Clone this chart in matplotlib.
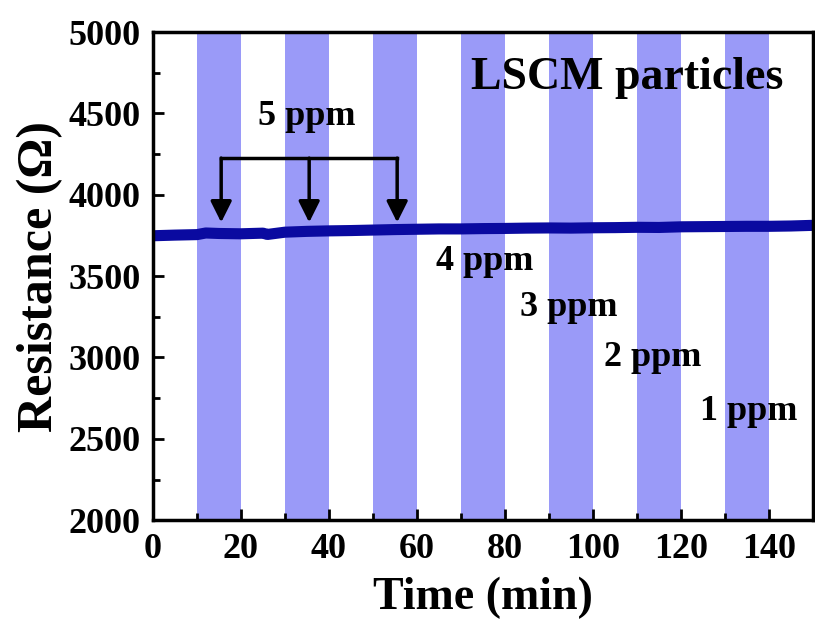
import matplotlib
matplotlib.use("Agg")
import matplotlib.pyplot as plt
from matplotlib.ticker import MultipleLocator

plt.rcParams['font.family'] = ['Liberation Serif', 'DejaVu Serif']
plt.rcParams['font.weight'] = 'bold'

# data
time_min = [0, 5, 10, 12, 15, 20, 25, 26, 30, 35, 40, 45, 50, 55, 60, 65, 70, 75, 80,
            85, 90, 95, 100, 105, 110, 115, 120, 125, 130, 135, 140, 145, 150]
resistance = [3748, 3752, 3755, 3765, 3762, 3760, 3764, 3756, 3770, 3775, 3778, 3780, 3783,
              3786, 3788, 3790, 3790, 3792, 3793, 3795, 3796, 3795, 3797, 3798, 3800, 3799,
              3803, 3804, 3805, 3806, 3806, 3808, 3812]
band_starts = [10, 30, 50, 70, 90, 110, 130]
band_ends = [20, 40, 60, 80, 100, 120, 140]
arrow_x = [15.5, 35.5, 55.5]
labels = ["5 ppm", "4 ppm", "3 ppm", "2 ppm", "1 ppm"]
label_x = [35, 75.5, 94.5, 113.6, 135.4]
label_y = [4480, 3590, 3310, 3000, 2670]

fig = plt.figure(figsize=(8.15, 6.23), dpi=100)
ax = fig.add_axes([0.1877, 0.165, 0.8098, 0.7836])

for s, e in zip(band_starts, band_ends):
    ax.axvspan(s, e, color='#9a9af8', lw=0, zorder=1)

ax.plot(time_min, resistance, color='#0a0aa0', lw=8, zorder=3)

# bracket and arrows
ax.plot([arrow_x[0], arrow_x[-1]], [4225, 4225], color='black', lw=2.5, zorder=4)
for xa in arrow_x:
    ax.annotate('', xy=(xa, 3830), xytext=(xa, 4225),
                arrowprops=dict(arrowstyle='-|>', color='black', lw=2.5,
                                mutation_scale=32, shrinkA=0, shrinkB=0), zorder=4)

for t, x, y in zip(labels, label_x, label_y):
    ax.text(x, y, t, ha='center', va='center', fontsize=26, fontweight='bold', zorder=5)
ax.text(107.7, 4717, 'LSCM particles', ha='center', va='center', fontsize=33,
        fontweight='bold', zorder=5)

ax.set_xlim(0, 150)
ax.set_ylim(2000, 5000)
ax.xaxis.set_major_locator(MultipleLocator(20))
ax.yaxis.set_major_locator(MultipleLocator(500))
ax.yaxis.set_minor_locator(MultipleLocator(250))
ax.xaxis.set_minor_locator(MultipleLocator(10))
ax.tick_params(which='both', direction='in', width=2, labelsize=26)
ax.tick_params(which='major', length=8)
ax.tick_params(which='minor', length=5)
ax.tick_params(axis='x', pad=9)
ax.tick_params(axis='y', pad=9)
for lab in ax.get_xticklabels() + ax.get_yticklabels():
    lab.set_fontweight('bold')
for sp in ax.spines.values():
    sp.set_linewidth(2.5)
    sp.set_zorder(6)

ax.set_xlabel('Time (min)', fontsize=33, fontweight='bold', labelpad=8)
ax.set_ylabel('Resistance (Ω)', fontsize=36, fontweight='bold', labelpad=4)

fig.savefig('out.png', dpi=100)
